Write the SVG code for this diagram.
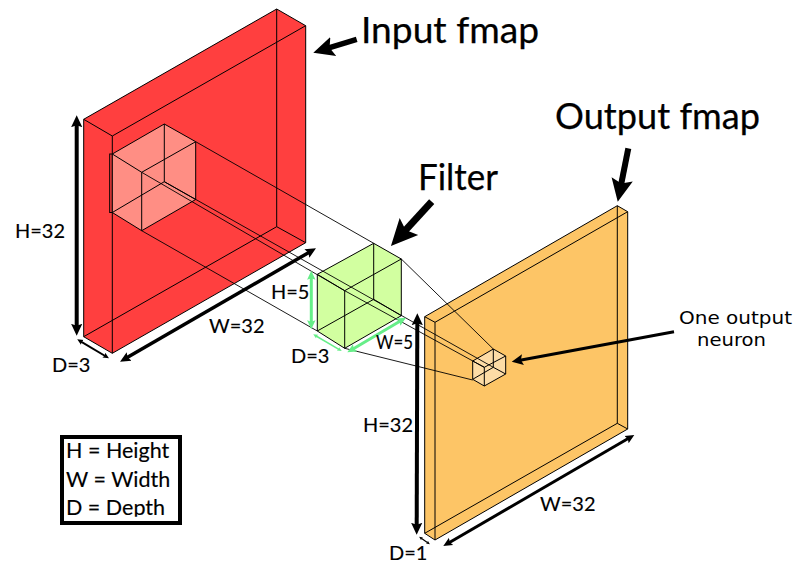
<svg xmlns="http://www.w3.org/2000/svg" width="801" height="588" viewBox="0 0 801 588">
  <style>
    .edge { fill: none; stroke: #000; stroke-width: 1; }
    .ray { fill: none; stroke: #000; stroke-width: 0.9; }
    .lab { font-family: "Lato", "Open Sans", sans-serif; fill: #000; }
    .big { font-size: 37px; stroke: #000; stroke-width: 0.25px; }
    .dim { font-size: 20px; stroke: #000; stroke-width: 0.15px; }
    .key { font-size: 21.5px; stroke: #000; stroke-width: 0.15px; }
    .note { font-family: "DejaVu Sans", sans-serif; font-size: 18.4px; fill: #000; }
    .call { stroke: #000; fill: none; marker-end: url(#bigHead); }
    .dimline { stroke: #000; fill: none; marker-start: url(#head); marker-end: url(#head); }
    .greenline { stroke: #66ee88; fill: none; marker-start: url(#headGreen); marker-end: url(#headGreen); }
  </style>
  <defs>
    <marker id="bigHead" viewBox="0 -2.5 4.5 5" refX="1" refY="0" markerWidth="4.5" markerHeight="5" markerUnits="strokeWidth" orient="auto">
      <path d="M0,-1.8 L3.8,0 L0,1.8 L0.7,0 Z" fill="#000"/>
    </marker>
    <marker id="head" viewBox="0 -2 3.5 4" refX="0.8" refY="0" markerWidth="3.5" markerHeight="4" markerUnits="strokeWidth" orient="auto-start-reverse">
      <path d="M0,-1.4 L3,0 L0,1.4 L0.5,0 Z" fill="#000"/>
    </marker>
    <marker id="headGreen" viewBox="0 -2 3.5 4" refX="0.8" refY="0" markerWidth="3.5" markerHeight="4" markerUnits="strokeWidth" orient="auto-start-reverse">
      <path d="M0,-1.4 L3,0 L0,1.4 L0.5,0 Z" fill="#66ee88"/>
    </marker>
    <clipPath id="keyClip"><rect x="62" y="437" width="118" height="79.7"/></clipPath>
  </defs>

  <rect width="801" height="588" fill="#fff"/>

  <g id="input-fmap">
    <polygon points="83.7,119.3 276.7,9 305.7,25.7 305.7,242.7 112.3,353.3 83.7,336.7" fill="#ff3f3f" stroke="#000"/>
    <path class="edge" d="M83.7,119.3 L112.3,136 L305.7,25.7 M112.3,136 V353.3 M276.7,9 V226.7 M83.7,336.7 L276.7,226.7 L305.7,242.7"/>
    <g id="input-window">
      <polygon points="112.3,154 164.3,124 195.7,141.7 195.7,199.5 141.7,230.7 112.3,212.5" fill="#ff8e84"/>
      <rect x="109.7" y="154" width="2.6" height="58.5" fill="none" stroke="#000"/>
      <path class="edge" d="M112.3,154 L164.3,124 L195.7,141.7 V199.5 L141.7,230.7 L112.3,212.5 M112.3,154 L141.7,172.3 L195.7,141.7 M141.7,172.3 V230.7 M164.3,124 V181.7 L195.7,199.5 M112.3,212.5 L164.3,181.7"/>
    </g>
  </g>

  <g id="output-fmap">
    <polygon points="424.7,316.7 617.3,205.7 627.7,211.7 627.7,429 435,540 424.7,533.3" fill="#fdc566" stroke="#000"/>
    <path class="edge" d="M424.7,316.7 L435,322.3 L627.7,211.7 M435,322.3 V540 M617.3,205.7 V423.3 M424.7,533.3 L617.3,423.3 L627.7,429"/>
    <g id="output-neuron">
      <polygon points="472.7,361 493.3,349 505.7,356 505.7,374 484.3,386 472.7,379.3" fill="#fddca6"/>
      <path class="edge" d="M472.7,361 L493.3,349 L505.7,356 V374 L484.3,386 L472.7,379.3 Z M472.7,361 L484.3,367.3 L505.7,356 M484.3,367.3 V386 M493.3,349 V367.3 L505.7,374 M472.7,379.3 L493.3,367.3"/>
    </g>
  </g>

  <g id="filter">
    <polygon points="317.3,274.3 373.7,243.3 401.3,259 401.3,315.7 344.7,348.3 317.3,331" fill="#d2ffa0"/>
    <path class="edge" d="M317.3,274.3 L373.7,243.3 L401.3,259 V315.7 L344.7,348.3 L317.3,331 Z M317.3,274.3 L344.7,290.7 L401.3,259 M344.7,290.7 V348.3 M373.7,243.3 V299.3 L401.3,315.7 M317.3,331 L373.7,299.3"/>
  </g>

  <g id="connectors">
    <path class="ray" d="M195.7,141.7 L373.7,243.3 M141.7,230.7 L317.3,331 M164.3,181.7 L493.3,367.3 M141.7,172.3 L344.7,290.7 L484.3,367.3 M401.3,259 L493.3,349 M344.7,348.3 L472.7,380"/>
    <path class="dimline" stroke-width="4" d="M76.7,124 V327"/>
    <path class="dimline" stroke-width="3.5" d="M126.7,357.8 L309.3,252.2"/>
    <path class="dimline" stroke-width="2" d="M81,341.6 L105.2,356"/>
    <path class="greenline" stroke-width="3" d="M311.3,277.3 V322.7"/>
    <path class="greenline" stroke-width="3" d="M353,349 L400.3,321"/>
    <path class="greenline" stroke-width="1.5" d="M316.1,336 L338.9,349.3"/>
    <path class="dimline" stroke-width="4" d="M417.3,322 L416.7,526"/>
    <path class="dimline" stroke-width="3" d="M449,542.7 L628.6,438.3"/>
    <path class="dimline" stroke-width="1.2" d="M421.3,538.3 L427.7,542.7"/>
    <path class="call" stroke-width="5.5" d="M356.7,39.3 L328,48.2"/>
    <path class="call" stroke-width="7" d="M431.7,201.7 L404.2,231.6"/>
    <path class="call" stroke-width="6" d="M628.3,148.3 L621,185.2"/>
    <path class="call" stroke-width="3" d="M674,331.7 L520,360.2"/>
  </g>

  <g id="labels">
    <text class="lab big" x="361" y="43" textLength="178" lengthAdjust="spacingAndGlyphs">Input fmap</text>
    <text class="lab big" x="555" y="129" textLength="205" lengthAdjust="spacingAndGlyphs">Output fmap</text>
    <text class="lab big" x="418" y="190" textLength="80" lengthAdjust="spacingAndGlyphs">Filter</text>
    <text class="lab dim" x="15" y="238">H=32</text>
    <text class="lab dim" x="209" y="333">W=32</text>
    <text class="lab dim" x="52" y="372">D=3</text>
    <text class="lab dim" x="271" y="299">H=5</text>
    <text class="lab dim" x="291" y="363">D=3</text>
    <text class="lab dim" x="376" y="349" textLength="37" lengthAdjust="spacingAndGlyphs">W=5</text>
    <text class="lab dim" x="363" y="432">H=32</text>
    <text class="lab dim" x="540" y="511">W=32</text>
    <text class="lab dim" x="389" y="560">D=1</text>
    <text class="note" x="679" y="324" textLength="113" lengthAdjust="spacingAndGlyphs">One output</text>
    <text class="note" x="697" y="345.6" textLength="69" lengthAdjust="spacingAndGlyphs">neuron</text>
  </g>

  <g id="legend">
    <rect x="62" y="437" width="118" height="86" fill="#fff" stroke="#000" stroke-width="4"/>
    <g clip-path="url(#keyClip)">
      <text class="lab key" x="66" y="458">H = Height</text>
      <text class="lab key" x="66" y="487">W = Width</text>
      <text class="lab key" x="66" y="515">D = Depth</text>
    </g>
  </g>
</svg>
